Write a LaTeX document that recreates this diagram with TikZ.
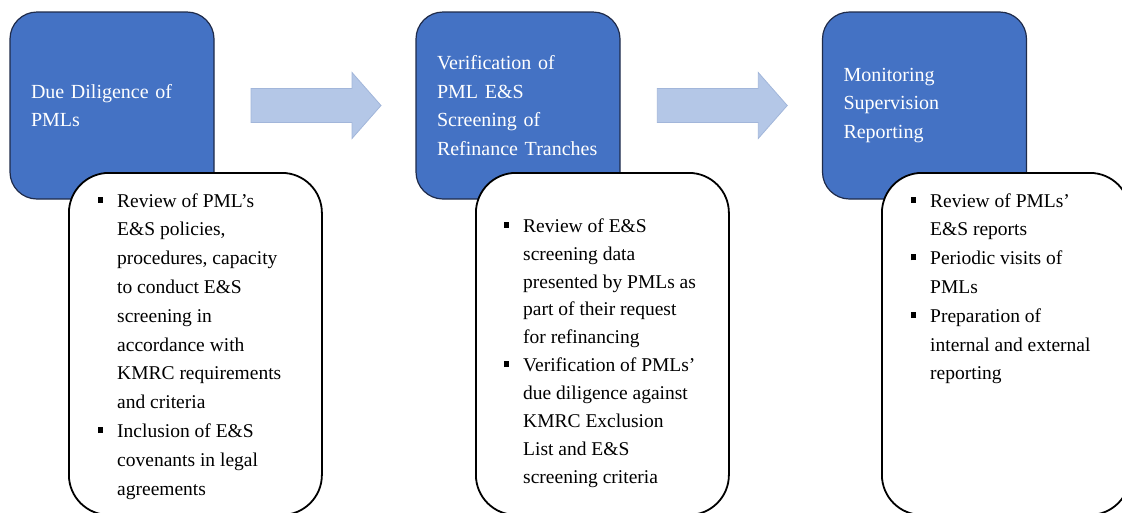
\documentclass[tikz,border=0pt]{standalone}
\usepackage{fontspec}
\setmainfont{Liberation Serif}
\usetikzlibrary{calc}
\definecolor{stepblue}{HTML}{4472C4}
\definecolor{stepedge}{HTML}{1F2B4A}
\definecolor{arrowblue}{HTML}{B4C7E7}
\definecolor{arrowedge}{HTML}{A2B6DA}
\newcommand{\bul}{\llap{\rule[4.5pt]{4.5pt}{6pt}\hspace{14.5pt}}}
\begin{document}
\begin{tikzpicture}[x=1pt,y=-1pt,
  titlebox/.style={draw=stepedge, line width=1.2pt, fill=stepblue, rounded corners=27pt,
    minimum width=204pt, minimum height=187pt, inner xsep=21pt, text width=162pt,
    align=left, text=white, font=\fontsize{20}{28.5}\selectfont},
  listbox/.style={draw=black, line width=1.8pt, fill=white, rounded corners=40pt,
    anchor=north west, inner sep=0pt},
  listtext/.style={anchor=north west, inner sep=0pt, align=left, text=black},
  blockarrow/.style={fill=arrowblue, draw=arrowedge, line width=0.8pt}
]
\useasboundingbox (0,0) rectangle (1122,512);
\clip (0,0) rectangle (1122,512);

% step boxes
\node[titlebox] (b1) at (112,105.5) {Due Diligence of\\PMLs};
\node[titlebox] (b2) at (518,105.5) {Verification of\\PML E\&S\\Screening of\\Refinance Tranches};
\node[titlebox] (b3) at (924.5,105.5) {Monitoring\\Supervision\\Reporting};

% block arrows
\coordinate (a1) at ($(b1.east)!0.5!(b2.west)$);
\coordinate (a2) at ($(b2.east)!0.5!(b3.west)$);
\foreach \c in {a1,a2}{
  \draw[blockarrow] ($(\c)+(-64,-17)$) -- ($(\c)+(37,-17)$) -- ($(\c)+(37,-33)$)
    -- ($(\c)+(66,0)$) -- ($(\c)+(37,33)$) -- ($(\c)+(37,17)$) -- ($(\c)+(-64,17)$) -- cycle;
}

% detail boxes
\node[listbox, minimum width=253pt, minimum height=342pt] (w1) at (68,172) {};
\node[listbox, minimum width=253pt, minimum height=342pt] (w2) at (475,172) {};
\node[listbox, minimum width=248pt, minimum height=342pt] (w3) at (881,172) {};

\node[listtext, font=\fontsize{19.5}{28.8}\selectfont] (l1) at (117,186.8) {\strut\bul Review of PML’s\\
E\&S policies,\\
procedures, capacity\\
to conduct E\&S\\
screening in\\
accordance with\\
KMRC requirements\\
and criteria\\
\bul Inclusion of E\&S\\
covenants in legal\\
agreements};

\node[listtext, font=\fontsize{19.5}{27.9}\selectfont] (l2) at (523,212.5) {\strut\bul Review of E\&S\\
screening data\\
presented by PMLs as\\
part of their request\\
for refinancing\\
\bul Verification of PMLs’\\
due diligence against\\
KMRC Exclusion\\
List and E\&S\\
screening criteria};

\node[listtext, font=\fontsize{19.5}{28.8}\selectfont] (l3) at (930,186.8) {\strut\bul Review of PMLs’\\
E\&S reports\\
\bul Periodic visits of\\
PMLs\\
\bul Preparation of\\
internal and external\\
reporting};
\end{tikzpicture}
\end{document}
